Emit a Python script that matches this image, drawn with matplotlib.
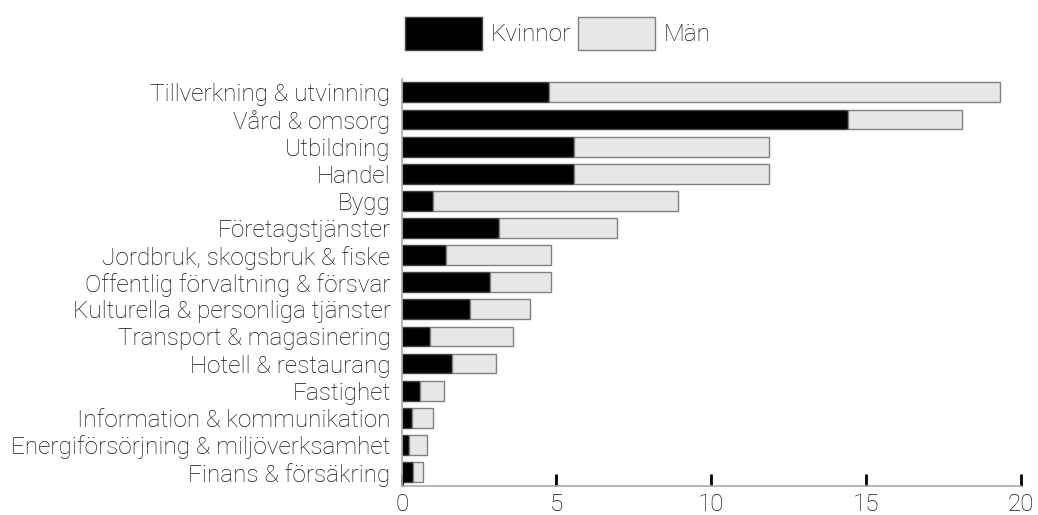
import numpy as np
import matplotlib as mpl
from matplotlib import pyplot as plt

branscher = ["Tillverkning & utvinning", "Vård & omsorg", "Utbildning", "Handel", "Bygg",
	"Företagstjänster", "Jordbruk, skogsbruk & fiske", "Offentlig förvaltning & försvar",
	"Kulturella & personliga tjänster", "Transport & magasinering", "Hotell & restaurang",
	"Fastighet", "Information & kommunikation", "Energiförsörjning & miljöverksamhet",
	"Finans & försäkring"]
kvinnor = [4.75, 14.4, 5.55, 5.55, 1.02, 3.13, 1.44, 2.85, 2.21, 0.92, 1.62, 0.59, 0.33, 0.24, 0.37]
totalt = [19.32, 18.09, 11.85, 11.85, 8.94, 6.94, 4.81, 4.82, 4.16, 3.59, 3.04, 1.36, 1.02, 0.81, 0.70]
man = [t - k for t, k in zip(totalt, kvinnor)]
xticks = [0, 5, 10, 15, 20]

plt.rcParams['font.family'] = ['Roboto', 'DejaVu Sans']
plt.rcParams['font.weight'] = 'light'

fig = plt.figure(figsize = (10.38, 5.15), dpi = 100)
ax = fig.add_axes([0.387, 0.057, 0.5965, 0.79])

y = np.arange(len(branscher))
ax.barh(y, kvinnor, height = 0.73, color = 'black', edgecolor = '#444444', linewidth = 1, label = 'Kvinnor')
ax.barh(y, man, left = kvinnor, height = 0.73, color = '#e7e7e7', edgecolor = '#808080', linewidth = 1, label = 'Män')

ax.set_ylim(len(branscher) - 0.5, -0.5)
ax.set_xlim(0, 20)
ax.set_yticks(y)
ax.set_yticklabels(branscher, fontsize = 17.5, color = '#111111')
ax.set_xticks(xticks)
ax.set_xticklabels([str(v) for v in xticks], fontsize = 17.5, color = '#111111')
ax.tick_params(axis = 'x', direction = 'in', length = 9, width = 2, color = 'black', pad = 5)
ax.tick_params(axis = 'y', length = 0, pad = 8)

for side in ['top', 'right']:
	ax.spines[side].set_visible(False)
for side in ['left', 'bottom']:
	ax.spines[side].set_color('#aaaaaa')
	ax.spines[side].set_linewidth(1.2)

leg = fig.legend(loc = 'upper center', bbox_to_anchor = (0.537, 1.01), ncol = 2, frameon = False,
	fontsize = 17.5, handlelength = 3.17, handleheight = 1.7, handletextpad = 0.35, columnspacing = 0.3)
for t in leg.get_texts():
	t.set_color('#111111')

plt.savefig('out.png', dpi = 100)
